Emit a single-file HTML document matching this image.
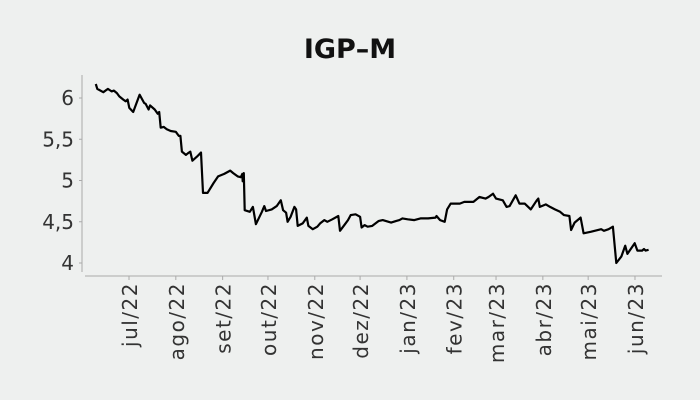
<!DOCTYPE html>
<html><head><meta charset="utf-8"><style>
html,body{margin:0;padding:0;background:#eef0ef;}
svg{display:block;font-family:"DejaVu Sans","Liberation Sans",sans-serif;}
</style></head><body>
<svg id="chart" width="700" height="400" viewBox="0 0 700 400">
<rect width="700" height="400" fill="#eef0ef"/>
<text x="350" y="58" text-anchor="middle" font-size="27" font-weight="bold" fill="#111">IGP–M</text>
<g id="axes"></g>
<g id="series"></g>
</svg>
<script>
// days from 1 Jul 2022
const days=[-22,-21,-17,-14,-11.5,-10,-8,-6.4,-3.8,-2.2,-0.9,0.2,2.8,7,10,11,13,14,17,19,20,21,23,25,27.6,31,33,34,35,37.7,39,40.6,42,45,47.7,49,52,56,59,63,67,69,72,74,75,75.3,76,76.6,80,82,84,88,89.6,90.7,94.5,97.8,100.5,102,104,105,107,109.5,110.6,111.7,115,117.7,118.8,121.7,124.7,126.5,129.3,131.3,134.6,138.6,139.7,143,145,146.8,150,153,154,156,158,161,165.4,168,173.5,177,179,181,184.5,188.9,193,198,203,203.6,206,209,210.6,213,219,222,228,232,236,238,241,243,247.5,250,252,256,258.5,262,266,270,271,272,276,278.8,282,285.4,288,291.6,292.7,295,299,301,306,312.6,314.4,317.5,320.4,322.6,326,328.5,330,334.8,336.6,339.7,341,342,344];
const values=[6.17,6.11,6.07,6.11,6.08,6.09,6.06,6.02,5.98,5.96,5.98,5.88,5.83,6.04,5.94,5.93,5.86,5.91,5.86,5.81,5.83,5.64,5.65,5.62,5.60,5.59,5.54,5.54,5.35,5.31,5.33,5.35,5.24,5.29,5.34,4.85,4.85,4.97,5.05,5.08,5.12,5.09,5.05,5.04,5.08,4.99,5.09,4.64,4.62,4.68,4.47,4.62,4.69,4.63,4.65,4.69,4.76,4.64,4.61,4.50,4.56,4.68,4.65,4.45,4.48,4.55,4.45,4.41,4.44,4.48,4.52,4.50,4.53,4.57,4.39,4.47,4.52,4.58,4.59,4.56,4.43,4.46,4.44,4.45,4.51,4.52,4.49,4.51,4.52,4.54,4.53,4.52,4.54,4.54,4.55,4.57,4.52,4.50,4.65,4.72,4.72,4.74,4.74,4.80,4.78,4.80,4.84,4.78,4.76,4.68,4.69,4.82,4.72,4.72,4.65,4.76,4.78,4.68,4.71,4.68,4.65,4.62,4.58,4.57,4.40,4.49,4.55,4.36,4.38,4.41,4.39,4.41,4.44,4.00,4.08,4.21,4.11,4.24,4.15,4.15,4.17,4.15,4.16];
const yTicks=[4,4.5,5,5.5,6];
const yTickLabels=["4","4,5","5","5,5","6"];
const monthLabels=["jul/22","ago/22","set/22","out/22","nov/22","dez/22","jan/23","fev/23","mar/23","abr/23","mai/23","jun/23"];
const monthDays=[0,31,62,92,123,153,184,215,243,274,304,335];

const xS=d=>129+d*1.5104;
const yS=v=>263-(v-4)*82.5;
const NS="http://www.w3.org/2000/svg";
const axes=document.getElementById('axes'), series=document.getElementById('series');
function mk(tag,attrs,parent){const e=document.createElementNS(NS,tag);for(const k in attrs)e.setAttribute(k,attrs[k]);parent.appendChild(e);return e;}

const ya=mk('line',{x1:82,y1:75,x2:82,y2:272,stroke:'#aaa','stroke-width':1},axes);


const xa=mk('line',{x1:85,y1:276,x2:662,y2:276,stroke:'#aaa','stroke-width':1},axes);



yTicks.forEach((v,i)=>{
  const y=yS(v);
  const t=mk('line',{x1:79,y1:y,x2:82,y2:y,stroke:'#aaa'},axes);
  
  
  const l=mk('text',{x:74,y:y+7,'text-anchor':'end','font-size':20,fill:'#333'},axes);
  l.textContent=yTickLabels[i];
  
  
});
monthDays.forEach((d,i)=>{
  const x=xS(d);
  const t=mk('line',{x1:x,y1:276,x2:x,y2:280,stroke:'#aaa'},axes);
  
  
  const l=mk('text',{x:0,y:0,'text-anchor':'end','font-size':20,'letter-spacing':1.5,fill:'#333',transform:`translate(${x+8},282) rotate(-90)`},axes);
  l.textContent=monthLabels[i];
  
  
});
const pts=days.map((d,i)=>xS(d).toFixed(1)+','+yS(values[i]).toFixed(1)).join(' ');
const pl=mk('polyline',{points:pts,fill:'none',stroke:'#000','stroke-width':2.2,'stroke-linejoin':'round'},series);


</script>
</body></html>
